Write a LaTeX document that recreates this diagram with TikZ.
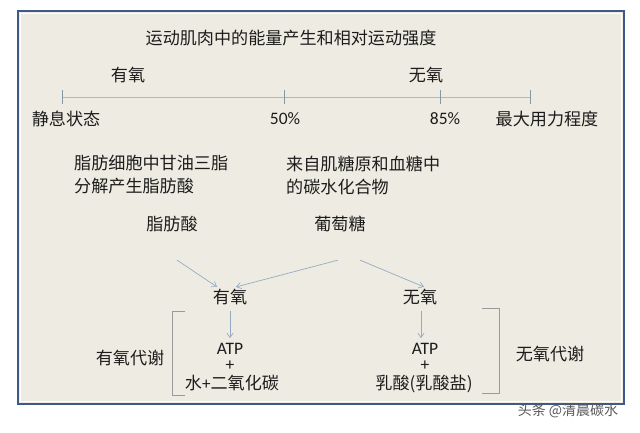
\documentclass[tikz,border=0pt]{standalone}
\usepackage{fontspec}
\usepackage{xcolor}
\usepackage{tikz}
\usetikzlibrary{arrows.meta, positioning, calc}
\setmainfont{Noto Sans CJK SC}
\newfontfamily\latinfont{Carlito}
\definecolor{panelFill}{HTML}{EEECE2}
\definecolor{panelBorder}{HTML}{3D5A8A}
\definecolor{scaleLine}{HTML}{A8B9CA}
\definecolor{tickLine}{HTML}{8797A8}
\definecolor{arrowLine}{HTML}{95ABC3}
\definecolor{bracketLine}{HTML}{9A9A9A}
\definecolor{textDark}{HTML}{1C1C1C}

\begin{document}
\begin{tikzpicture}[
  x=1pt, y=-1pt,
  label/.style={inner sep=0pt, text=textDark, font=\fontsize{17.1}{23}\selectfont},
  para/.style={label, align=left, anchor=west},
  latin/.style={inner sep=0pt, text=textDark, font=\latinfont\fontsize{17.5}{20}\selectfont},
  arrow/.style={-{Straight Barb[length=1.6mm, width=2.2mm]}, draw=arrowLine, line width=0.7pt},
  line/.style={draw=bracketLine, line width=0.9pt}
]
  % Frame
  \useasboundingbox[fill=white] (0,0) rectangle (640,432);
  \draw[fill=panelFill, draw=panelBorder, line width=2pt] (18,11) rectangle (624,404);
  \draw[white, line width=0.6pt] (20.5,13.5) rectangle (621.5,401.5);

  % Scale
  \node (title) [label] at (291,38) {运动肌肉中的能量产生和相对运动强度};
  \node (aerobicTop) [label] at (128,75) {有氧};
  \node (anaerobicTop) [label] at (426,75) {无氧};
  \draw[scaleLine, line width=1.6pt] (62,97.5) -- (530,97.5);
  \draw[tickLine, line width=0.8pt] (62,90) -- (62,104);
  \draw[tickLine, line width=0.8pt] (284,90) -- (284,104);
  \draw[tickLine, line width=0.8pt] (440,90) -- (440,104);
  \draw[tickLine, line width=0.8pt] (530,90) -- (530,104);
  \node (rest) [label] at (66,119) {静息状态};
  \node (fifty) [latin] at (285,119) {50\%};
  \node (eightyFive) [latin] at (445,119) {85\%};
  \node (maxEffort) [label] at (547,119) {最大用力程度};

  % Sources
  \node (fatSource) [para] at (74,175) {脂肪细胞中甘油三脂\\分解产生脂肪酸};
  \node (carbSource) [para] at (286,175) {来自肌糖原和血糖中\\的碳水化合物};
  \node (fattyAcid) [label] at (172,224) {脂肪酸};
  \node (glucose) [label] at (340,224) {葡萄糖};

  % Pathways
  \node (aerobic) [label] at (230,297) {有氧};
  \node (anaerobic) [label] at (420,297) {无氧};
  \node (atpLeft) [latin] at (230,349) {ATP};
  \node (plusLeft) [latin] at (230,366) {+};
  \node (waterCO2) [label] at (232,383.5) {水{\latinfont +}二氧化碳};
  \node (atpRight) [latin] at (425,349) {ATP};
  \node (plusRight) [latin] at (425,366) {+};
  \node (lactate) [label] at (424,383.5) {乳酸(乳酸盐)};
  \node (aerobicMeta) [label] at (130,358) {有氧代谢};
  \node (anaerobicMeta) [label] at (550,354) {无氧代谢};

  % Brackets
  \draw[line] (185,311) -- (172,311) -- (172,395) -- (185,395);
  \draw[line] (482,308) -- (499,308) -- (499,393) -- (482,393);

  % Connectors
  \draw[arrow] ([xshift=5pt, yshift=-28pt]fattyAcid.south) -- ([xshift=-13pt, yshift=2pt]aerobic.north);
  \draw[arrow] ([xshift=-2pt, yshift=-28pt]glucose.south) -- ([xshift=6pt, yshift=2pt]aerobic.north);
  \draw[arrow] ([xshift=20pt, yshift=-28pt]glucose.south) -- ([xshift=4pt, yshift=2pt]anaerobic.north);
  \draw[arrow] ([yshift=-6pt]aerobic.south) -- ([yshift=5pt]atpLeft.north);
  \draw[arrow] ([xshift=1pt, yshift=-6pt]anaerobic.south) -- ([xshift=-4pt, yshift=5pt]atpRight.north);

  % Watermark
  \node (watermark) [inner sep=0pt, text=black!65, font=\fontsize{14}{16}\selectfont] at (568,411) {头条 @清晨碳水};
\end{tikzpicture}
\end{document}
